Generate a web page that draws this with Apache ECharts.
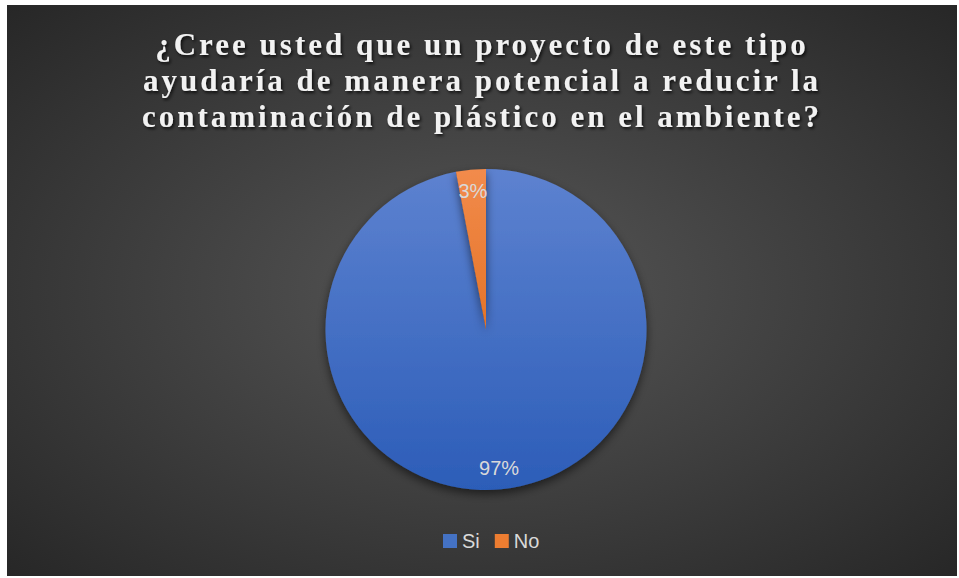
<!DOCTYPE html>
<html>
<head>
<meta charset="utf-8">
<script src="https://cdn.jsdelivr.net/npm/echarts@6/dist/echarts.min.js"></script>
<style>
  html, body { margin: 0; padding: 0; background: #ffffff; width: 959px; height: 578px; overflow: hidden; }
  #chart { position: absolute; left: 7px; top: 5px; width: 950px; height: 571px; }
  #chart text[style*="Serif"] { letter-spacing: 3px; }
</style>
</head>
<body>
<div id="chart"></div>
<script>
// Survey answers and their counts (in percent)
const categories = ['Si', 'No'];
const values = [97, 3];
const titleText = '¿Cree usted que un proyecto de este tipo\nayudaría de manera potencial a reducir la\ncontaminación de plástico en el ambiente?';

const sliceColors = [
  new echarts.graphic.LinearGradient(0, 0, 0, 1, [
    { offset: 0, color: '#5d82d0' },
    { offset: 1, color: '#2c5db8' }
  ]),
  new echarts.graphic.LinearGradient(0, 0, 0, 1, [
    { offset: 0, color: '#f28b4c' },
    { offset: 1, color: '#e47428' }
  ])
];
const legendColors = ['#4472c4', '#ed7d31'];

const pieData = categories.map((name, i) => ({
  name: name,
  value: values[i],
  itemStyle: { color: sliceColors[i] }
}));

const chart = echarts.init(document.getElementById('chart'), null, { renderer: 'svg' });
chart.setOption({
  backgroundColor: new echarts.graphic.RadialGradient(0.5, 0.5, 0.72, [
    { offset: 0, color: '#575757' },
    { offset: 1, color: '#262626' }
  ]),
  title: {
    text: titleText,
    left: 'center',
    top: 16,
    padding: [5, 0, 5, 11],
    textStyle: {
      fontFamily: 'Liberation Serif',
      fontWeight: 'bold',
      fontSize: 31,
      lineHeight: 36,
      color: '#f2f2f2',
      textShadowColor: 'rgba(0,0,0,0.75)',
      textShadowBlur: 3,
      textShadowOffsetX: 1.5,
      textShadowOffsetY: 2
    }
  },
  legend: {
    data: categories.map((name, i) => ({ name: name, itemStyle: { color: legendColors[i] } })),
    bottom: 20,
    left: 431,
    itemWidth: 14,
    itemHeight: 14,
    itemGap: 15,
    icon: 'rect',
    textStyle: { color: '#d9d9d9', fontSize: 20, fontFamily: 'Liberation Sans' }
  },
  series: [
    {
      type: 'pie',
      center: [479, 324.5],
      radius: [0, 160.5],
      startAngle: 90,
      clockwise: true,
      data: pieData,
      label: { show: false },
      labelLine: { show: false },
      emphasis: { disabled: true },
      itemStyle: {
        shadowColor: 'rgba(0,0,0,0.55)',
        shadowBlur: 10,
        shadowOffsetY: 4
      }
    },
    {
      // transparent ring that carries the percent labels near the rim
      type: 'pie',
      center: [479, 324.5],
      radius: [111, 160.5],
      startAngle: 90,
      clockwise: true,
      silent: true,
      data: categories.map((name, i) => ({ name: name, value: values[i] })),
      itemStyle: { color: 'rgba(0,0,0,0)' },
      label: {
        show: true,
        position: 'inside',
        formatter: '{d}%',
        color: '#d9d9d9',
        fontSize: 20,
        fontFamily: 'Liberation Sans'
      },
      labelLine: { show: false },
      emphasis: { disabled: true }
    }
  ]
});
</script>
</body>
</html>
